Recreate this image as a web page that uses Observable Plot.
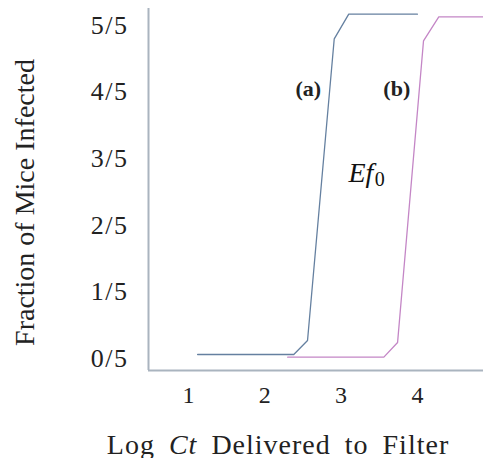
<!DOCTYPE html>
<html><head><meta charset="utf-8">
<script src="https://cdn.jsdelivr.net/npm/d3@7"></script>
<script src="https://cdn.jsdelivr.net/npm/@observablehq/plot@0.6"></script>
<style>body{margin:0;background:#fff;overflow:hidden} #chart svg, #chart svg text{font-family:"Liberation Serif","Times New Roman",Tinos,"DejaVu Serif",serif !important}</style>
</head><body><div id="chart"></div>
<script>
// Curve (a): log Ct vs mice infected (out of 5)
const seriesA_x = [1.12, 2.38, 2.56, 2.91, 3.10, 4.00];
const seriesA_y = [0.06, 0.06, 0.27, 4.80, 5.17, 5.17];
// Curve (b)
const seriesB_x = [2.30, 3.56, 3.74, 4.08, 4.28, 4.87];
const seriesB_y = [0.02, 0.02, 0.24, 4.77, 5.13, 5.13];
const yTicks = [0, 1, 2, 3, 4, 5];
const xTicks = [1, 2, 3, 4];
const curveLabels = ["(a)", "(b)"];
const curveLabelX = [2.57, 3.73];
const curveLabelY = [4.05, 4.05];

const A = seriesA_x.map((x, i) => ({x, y: seriesA_y[i]}));
const B = seriesB_x.map((x, i) => ({x, y: seriesB_y[i]}));
const labs = curveLabels.map((t, i) => ({t, x: curveLabelX[i], y: curveLabelY[i]}));

const serif = "'Liberation Serif','Times New Roman',Tinos,'DejaVu Serif',serif";
const xDom = [0.476, 4.866], yDom = [-0.18, 5.255];
const axisCol = "#aab4bf";

const chart = Plot.plot({
  width: 483, height: 458,
  marginLeft: 148, marginRight: 0, marginTop: 8, marginBottom: 88,
  style: {fontFamily: serif, background: "#fff", color: "#222"},
  x: {domain: xDom},
  y: {domain: yDom},
  marks: [
    Plot.axisY({ticks: yTicks, tickFormat: d => `${d}/5`, tickSize: 0, tickPadding: 20, fontSize: 26, fontFamily: serif, label: null, className: "ytk"}),
    Plot.axisX({ticks: xTicks, tickFormat: d => String(d), tickSize: 0, tickPadding: 15, fontSize: 24, fontFamily: serif, label: null}),
    Plot.ruleY([yDom[0]], {stroke: axisCol, strokeWidth: 2}),
    Plot.ruleX([xDom[0]], {stroke: axisCol, strokeWidth: 2}),
    Plot.line(A, {x: "x", y: "y", stroke: "#6580a0", strokeWidth: 1.3}),
    Plot.line(B, {x: "x", y: "y", stroke: "#c486c6", strokeWidth: 1.3}),
    Plot.text(labs, {x: "x", y: "y", text: "t", fontWeight: "bold", fontSize: 22, fontFamily: serif, fill: "#222"}),
    Plot.text(["Ef"], {x: [3.097], y: [2.78], text: d => d, textAnchor: "start", fontStyle: "italic", fontSize: 28, fontFamily: serif, fill: "#111"}),
    Plot.text(["0"], {x: [3.44], y: [2.69], text: d => d, textAnchor: "start", fontSize: 20, fontFamily: serif, fill: "#111"}),
    Plot.text(["Fraction of Mice Infected"], {frameAnchor: "left", textAnchor: "middle", lineAnchor: "middle", rotate: -90, dx: -123, dy: 13, fontSize: 28, fontFamily: serif, fill: "#222"}),
    Plot.text(["Log Ct Delivered to Filter"], {frameAnchor: "bottom", textAnchor: "middle", lineAnchor: "middle", dx: -38, dy: 75, fontSize: 28, fontFamily: serif, fill: "#222", className: "xlab"})
  ]
});
document.getElementById("chart").appendChild(chart);
// italicise "Ct" in x-axis title, widen spacing like the reference
d3.select(chart).selectAll(".xlab text").each(function() {
  const t = d3.select(this);
  t.text("").attr("letter-spacing", "1px").attr("word-spacing", "6px");
  t.append("tspan").text("Log ");
  t.append("tspan").attr("font-style", "italic").text("Ct");
  t.append("tspan").text(" Delivered to Filter");
});
d3.select(chart).selectAll(".ytk text").attr("letter-spacing", "1.5px");
</script></body></html>
